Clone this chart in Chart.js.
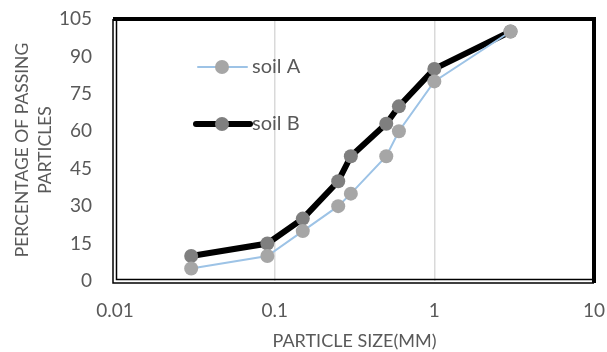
<!DOCTYPE html>
<html>
<head>
<meta charset="utf-8">
<script src="https://cdn.jsdelivr.net/npm/chart.js@4.4.1/dist/chart.umd.min.js"></script>
<style>
  html, body { margin: 0; padding: 0; background: #fff; }
  #wrap { width: 607px; height: 352px; }
</style>
</head>
<body>
<div id="wrap"><canvas id="myChart"></canvas></div>
<script>
// particle size (mm) and % passing
var sizes = [0.03, 0.09, 0.15, 0.25, 0.3, 0.5, 0.6, 1, 3];
var soilA = [5, 10, 20, 30, 35, 50, 60, 80, 100];
var soilB = [10, 15, 25, 40, 50, 63, 70, 85, 100];
var xTicks = [0.01, 0.1, 1, 10];
var yTicks = [0, 15, 30, 45, 60, 75, 90, 105];

function pts(vals) {
  return sizes.map(function (s, i) { return { x: s, y: vals[i] }; });
}

var txt = '#595959';

// legend drawn inside the plot
var innerLegend = {
  id: 'innerLegend',
  afterDatasetsDraw: function (chart) {
    var c = chart.ctx;
    var rows = [
      { ds: chart.data.datasets[0], y: 67, x0: 198, x1: 247 },
      { ds: chart.data.datasets[1], y: 124, x0: 196, x1: 250 }
    ];
    rows.forEach(function (r) {
      c.save();
      c.strokeStyle = r.ds.borderColor;
      c.lineWidth = r.ds.borderWidth;
      c.lineCap = 'round';
      c.beginPath();
      c.moveTo(r.x0, r.y);
      c.lineTo(r.x1, r.y);
      c.stroke();
      c.fillStyle = r.ds.pointBackgroundColor;
      c.beginPath();
      c.arc(222, r.y, 7, 0, Math.PI * 2);
      c.fill();
      c.fillStyle = txt;
      c.font = '20px Lato';
      c.textBaseline = 'middle';
      c.fillText(r.ds.label, 252, r.y);
      c.restore();
    });
  }
};

var frame = {
  id: 'frame',
  afterDraw: function (chart) {
    var a = chart.chartArea, c = chart.ctx;
    c.save();
    c.strokeStyle = '#000';
    // heavy top and right
    c.lineWidth = 4;
    c.beginPath();
    c.moveTo(a.left - 2, a.top);
    c.lineTo(a.right, a.top);
    c.lineTo(a.right, a.bottom + 2);
    c.stroke();
    // double line on left and bottom
    c.lineWidth = 1.5;
    c.beginPath();
    c.moveTo(a.left - 2, a.top);
    c.lineTo(a.left - 2, a.bottom + 2);
    c.lineTo(a.right, a.bottom + 2);
    c.moveTo(a.left + 1.5, a.top);
    c.lineTo(a.left + 1.5, a.bottom - 1.5);
    c.lineTo(a.right, a.bottom - 1.5);
    c.stroke();
    c.restore();
  }
};

new Chart(document.getElementById('myChart'), {
  type: 'line',
  data: {
    datasets: [{
      label: 'soil A',
      data: pts(soilA),
      borderColor: '#9dc3e6',
      borderWidth: 2,
      pointBackgroundColor: '#a6a6a6',
      pointBorderWidth: 0,
      pointRadius: 7,
      tension: 0
    }, {
      label: 'soil B',
      data: pts(soilB),
      borderColor: '#000000',
      borderWidth: 6,
      pointBackgroundColor: '#7f7f7f',
      pointBorderWidth: 0,
      pointRadius: 7,
      tension: 0
    }]
  },
  options: {
    responsive: true,
    maintainAspectRatio: false,
    animation: false,
    layout: { padding: { left: 11, right: 13, top: 19, bottom: 0 } },
    plugins: {
      legend: { display: false },
      tooltip: { enabled: false }
    },
    scales: {
      x: {
        type: 'logarithmic',
        min: 0.01,
        max: 10,
        afterBuildTicks: function (s) {
          s.ticks = xTicks.map(function (v) { return { value: v }; });
        },
        afterFit: function (s) {
          s.height = 71;
          s.paddingLeft = 0;
          s.paddingRight = 0;
        },
        border: { display: false },
        grid: {
          drawTicks: false,
          color: function (ctx) {
            var v = ctx.tick && ctx.tick.value;
            return (v === 0.1 || v === 1) ? '#d9d9d9' : 'rgba(0,0,0,0)';
          },
          lineWidth: 1.5
        },
        ticks: {
          color: txt,
          font: { family: 'Lato', size: 19 },
          padding: 18,
          maxRotation: 0,
          autoSkip: false,
          callback: function (v) { return String(v); }
        },
        title: {
          display: true,
          text: 'PARTICLE SIZE(MM)',
          color: txt,
          font: { family: 'Lato', size: 18 },
          padding: { top: 0, bottom: 0 }
        }
      },
      y: {
        min: 0,
        max: 105,
        afterBuildTicks: function (s) {
          s.ticks = yTicks.map(function (v) { return { value: v }; });
        },
        afterFit: function (s) {
          s.width = 104;
          s.paddingTop = 0;
          s.paddingBottom = 0;
        },
        border: { display: false },
        grid: { display: false, drawTicks: false },
        ticks: {
          color: txt,
          font: { family: 'Lato', size: 19 },
          padding: 23
        },
        title: {
          display: true,
          text: ['PERCENTAGE OF PASSING', 'PARTICLES'],
          color: txt,
          font: { family: 'Lato', size: 17.5, lineHeight: 1.3 },
          padding: { top: 0, bottom: 4 }
        }
      }
    }
  },
  plugins: [innerLegend, frame]
});
</script>
</body>
</html>
